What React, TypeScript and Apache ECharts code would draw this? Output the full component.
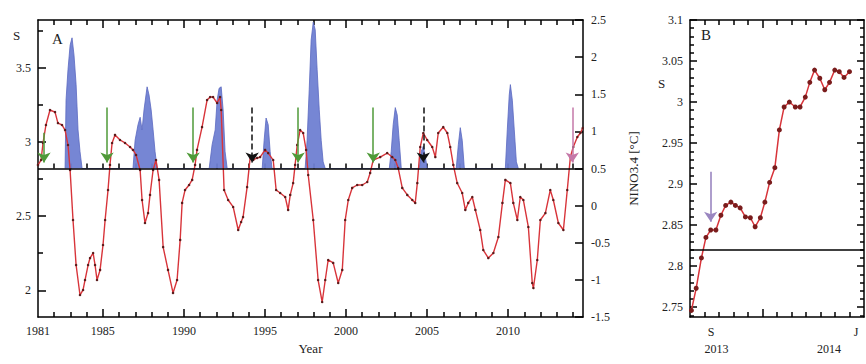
import React, { useEffect, useRef } from "react";
import * as echarts from "echarts";

// ---- Panel A: S index (left axis) ----
const sYears = [
  1981.0, 1981.19, 1981.31, 1981.49, 1981.74, 1982.05, 1982.23, 1982.48, 1982.67, 1982.85,
  1982.98, 1983.16, 1983.35, 1983.59, 1983.78, 1983.9, 1984.09, 1984.21, 1984.4, 1984.52,
  1984.64, 1984.83, 1985.01, 1985.14, 1985.32, 1985.44, 1985.57, 1985.75, 1986.06, 1986.37,
  1986.68, 1986.86, 1987.05, 1987.3, 1987.42, 1987.6, 1987.79, 1987.91, 1988.1, 1988.28,
  1988.47, 1988.72, 1989.02, 1989.33, 1989.58, 1989.77, 1989.89, 1990.07, 1990.32, 1990.51,
  1990.69, 1990.81, 1991.12, 1991.43, 1991.62, 1991.8, 1992.05, 1992.23, 1992.3, 1992.48,
  1992.73, 1993.04, 1993.35, 1993.53, 1993.65, 1993.9, 1994.09, 1994.27, 1994.52, 1994.7,
  1995.01, 1995.2, 1995.51, 1995.69, 1995.94, 1996.25, 1996.43, 1996.56, 1996.74, 1996.86,
  1996.99, 1997.17, 1997.36, 1997.54, 1997.67, 1997.98, 1998.28, 1998.53, 1998.72, 1998.9,
  1999.21, 1999.52, 1999.77, 1999.95, 2000.14, 2000.38, 2000.69, 2001.0, 2001.31, 2001.49,
  2001.68, 2002.11, 2002.54, 2002.85, 2003.04, 2003.22, 2003.47, 2003.78, 2004.09, 2004.27,
  2004.4, 2004.58, 2004.77, 2005.01, 2005.32, 2005.51, 2005.69, 2006.0, 2006.25, 2006.43,
  2006.62, 2006.86, 2007.17, 2007.36, 2007.54, 2007.79, 2007.98, 2008.28, 2008.47, 2008.78,
  2009.09, 2009.4, 2009.65, 2009.83, 2010.14, 2010.32, 2010.57, 2010.75, 2010.94, 2011.25,
  2011.49, 2011.56, 2011.8, 2011.99, 2012.3, 2012.6, 2012.79, 2013.1, 2013.41, 2013.65,
  2013.84, 2014.02, 2014.27, 2014.46, 2014.6,
];
const sValues = [
  2.844, 2.877, 2.992, 3.113, 3.214, 3.2, 3.126, 3.113, 3.079, 2.978,
  2.81, 2.473, 2.17, 1.968, 2.002, 2.069, 2.17, 2.217, 2.251, 2.17,
  2.069, 2.137, 2.305, 2.473, 2.675, 2.844, 2.992, 3.046, 3.012, 2.992,
  2.965, 2.945, 2.911, 2.81, 2.608, 2.453, 2.52, 2.642, 2.81, 2.877,
  2.743, 2.291, 2.137, 1.982, 2.069, 2.339, 2.588, 2.675, 2.709, 2.743,
  2.844, 2.945, 3.099, 3.281, 3.301, 3.301, 3.261, 3.301, 3.214, 2.675,
  2.608, 2.561, 2.406, 2.46, 2.493, 2.695, 2.897, 2.877, 2.891, 2.897,
  2.945, 2.924, 2.877, 2.675, 2.655, 2.628, 2.541, 2.642, 2.722, 2.844,
  2.978, 3.079, 3.059, 2.945, 2.776, 2.473, 2.069, 1.921, 2.069, 2.204,
  2.184, 2.049, 2.137, 2.473, 2.608, 2.689, 2.709, 2.709, 2.729, 2.79,
  2.877, 2.897, 2.924, 2.897, 2.877, 2.823, 2.689, 2.642, 2.608, 2.588,
  2.722, 2.965, 3.059, 3.012, 2.965, 2.897, 3.059, 3.099, 3.059, 2.965,
  2.844, 2.722, 2.655, 2.541, 2.588, 2.628, 2.541, 2.406, 2.271, 2.217,
  2.251, 2.359, 2.588, 2.743, 2.722, 2.588, 2.473, 2.628, 2.608, 2.426,
  2.049, 2.015, 2.204, 2.473, 2.52, 2.675, 2.608, 2.453, 2.406, 2.675,
  2.897, 2.965, 3.032, 3.059, 3.093,
];

// ---- Panel A: NINO3.4 El Nino episodes above 0.5 degC (right axis) ----
const ninoYears = [
  1982.67, 1982.73, 1982.85, 1982.98, 1983.1, 1983.22, 1983.35, 1983.47, 1983.59, 1983.72,
  1986.86, 1986.99, 1987.17, 1987.3, 1987.42, 1987.54, 1987.73, 1987.85, 1987.98, 1988.1, 1988.22, 1988.35,
  1991.56, 1991.74, 1991.93, 1992.05, 1992.17, 1992.3, 1992.42, 1992.54, 1992.67,
  1994.83, 1994.95, 1995.07, 1995.2, 1995.32, 1995.44,
  1997.48, 1997.6, 1997.73, 1997.85, 1997.98, 1998.1, 1998.22, 1998.35, 1998.47, 1998.59, 1998.72,
  2002.67, 2002.79, 2002.91, 2003.04, 2003.16, 2003.28, 2003.41,
  2004.52, 2004.64, 2004.77, 2004.89, 2005.01,
  2006.8, 2006.93, 2007.05, 2007.17, 2007.3,
  2009.83, 2009.95, 2010.07, 2010.14, 2010.26, 2010.38, 2010.51, 2010.63,
];
const ninoValues = [
  0.5, 1.42, 1.83, 2.16, 2.26, 2.03, 1.63, 1.02, 0.73, 0.5,
  0.5, 0.88, 1.09, 1.19, 1.02, 1.29, 1.6, 1.49, 1.29, 1.02, 0.73, 0.5,
  0.5, 0.82, 1.02, 1.42, 1.58, 1.6, 1.29, 0.73, 0.5,
  0.5, 0.88, 1.18, 1.09, 0.73, 0.5,
  0.5, 0.88, 1.56, 2.23, 2.47, 2.37, 1.83, 1.29, 0.88, 0.59, 0.5,
  0.5, 0.73, 1.09, 1.32, 1.22, 0.88, 0.5,
  0.5, 0.73, 0.8, 0.66, 0.5,
  0.5, 0.82, 1.05, 0.88, 0.5,
  0.5, 1.02, 1.49, 1.63, 1.42, 1.02, 0.59, 0.5,
];

// ---- Panel A: alarms (arrows) ----
const alarmYears = [1981.37, 1985.26, 1990.57, 1994.21, 1997.05, 2001.68, 2004.77, 2013.96];
const alarmTops = [3.06, 3.23, 3.23, 3.23, 3.23, 3.23, 3.23, 3.23];
const alarmKinds = ["hit", "hit", "hit", "false", "hit", "hit", "false", "now"];
const alarmTip = 2.86;
const threshold = 2.82;

const aLabelYears = [1981, 1985, 1990, 1995, 2000, 2005, 2010];

// ---- Panel B: S from Aug 2013 to Jul 2014 ----
const bDates = [
  "2013-08-04", "2013-08-14", "2013-08-25", "2013-09-04", "2013-09-14", "2013-09-25", "2013-10-05",
  "2013-10-15", "2013-10-26", "2013-11-05", "2013-11-15", "2013-11-26", "2013-12-06", "2013-12-16",
  "2013-12-27", "2014-01-06", "2014-01-16", "2014-01-27", "2014-02-06", "2014-02-16", "2014-02-27",
  "2014-03-09", "2014-03-19", "2014-03-30", "2014-04-09", "2014-04-19", "2014-04-30", "2014-05-10",
  "2014-05-20", "2014-05-31", "2014-06-10", "2014-06-20", "2014-07-01",
];
const bValues = [
  2.746, 2.773, 2.81, 2.835, 2.844, 2.844, 2.862, 2.874, 2.878, 2.874, 2.871,
  2.86, 2.859, 2.848, 2.859, 2.878, 2.902, 2.92, 2.966, 2.994, 3.0, 2.994,
  2.994, 3.006, 3.024, 3.039, 3.029, 3.015, 3.024, 3.039, 3.037, 3.03, 3.037,
];
const bAlarmDate = "2013-09-14";
const bAlarmTop = 2.915;
const bAlarmTip = 2.854;
const bMonthLabels = [
  { date: "2013-09-15", text: "S" },
  { date: "2014-07-15", text: "J" },
];
const bYearLabels = [
  { date: "2013-09-26", text: "2013" },
  { date: "2014-05-19", text: "2014" },
];

// months since 2013-08-01
function monthsOf(d: string): number {
  const [y, m, day] = d.split("-").map(Number);
  return (y - 2013) * 12 + (m - 8) + (day - 1) / 30.5;
}

const FONT = "Liberation Serif";
const TXT = "#222";

export default function App() {
  const ref = useRef<HTMLDivElement>(null);
  useEffect(() => {
    if (!ref.current) return;
    const chart = echarts.init(ref.current, undefined, { renderer: "svg" });

    const yearsAll: number[] = [];
    for (let y = 1982; y <= 2014; y++) yearsAll.push(y);
    const majorYears = yearsAll.filter((y) => y % 5 === 0);
    const minorYears = yearsAll.filter((y) => y % 5 !== 0);

    const bMinorY: number[] = [];
    for (let v = 274; v <= 310; v++) if (v % 5 !== 0) bMinorY.push(v / 100);
    const bMajorY = [2.75, 2.8, 2.85, 2.9, 2.95, 3.0, 3.05, 3.1];
    const bMonths = [1, 2, 3, 4, 6, 7, 8, 9, 10, 11];

    const lbl = { fontFamily: FONT, color: TXT, fontSize: 12 };
    const blackLine = { color: "#000", width: 1.5 };

    const xA = (pos: string, ticks: number[], len: number, line: boolean, labels?: number[], extra: any = {}) => ({
      type: "value",
      gridIndex: 0,
      position: pos,
      min: 1981,
      max: 2014.62,
      axisLine: { show: line, onZero: false, lineStyle: blackLine },
      axisTick: { show: true, inside: true, length: len, customValues: ticks, lineStyle: blackLine },
      axisLabel: labels
        ? { show: true, customValues: labels, margin: 8, ...lbl, formatter: (v: number) => String(Math.round(v)) }
        : { show: false },
      splitLine: { show: false },
      ...extra,
    });

    const xB = (pos: string, ticks: number[], len: number, line: boolean, labelSpec?: any, margin = 9) => ({
      type: "value",
      gridIndex: 1,
      position: pos,
      min: 0,
      max: 12,
      axisLine: { show: line, onZero: false, lineStyle: blackLine },
      axisTick: { show: ticks.length > 0, inside: true, length: len, customValues: ticks, lineStyle: blackLine },
      axisLabel: labelSpec
        ? {
            show: true,
            customValues: labelSpec.map((l: any) => monthsOf(l.date)),
            ...lbl,
            margin,
            formatter: (v: number) => {
              const f = labelSpec.find((l: any) => Math.abs(monthsOf(l.date) - v) < 1e-6);
              return f ? f.text : "";
            },
          }
        : { show: false },
      splitLine: { show: false },
    });

    const yAx = (grid: number, pos: string, min: number, max: number, ticks: number[] | null, len: number, line: boolean, labels: number[] | null, extra: any = {}) => ({
      type: "value",
      gridIndex: grid,
      position: pos,
      min,
      max,
      axisLine: { show: line, onZero: false, lineStyle: blackLine },
      axisTick: ticks
        ? { show: true, inside: true, length: len, customValues: ticks, lineStyle: blackLine }
        : { show: true, inside: true, length: len, lineStyle: blackLine },
      axisLabel: labels
        ? { show: true, customValues: labels, margin: 7, ...lbl, formatter: (v: number) => String(+v.toFixed(2)) }
        : { show: false },
      splitLine: { show: false },
      ...extra,
    });

    const option: any = {
      animation: false,
      backgroundColor: "#fff",
      grid: [
        { left: 38, top: 20, width: 545, height: 297, containLabel: false, outerBoundsMode: "none" },
        { left: 690, top: 20, width: 174, height: 297, containLabel: false, outerBoundsMode: "none" },
      ],
      xAxis: [
        xA("bottom", majorYears, 8, true, aLabelYears, {
          name: "Year",
          nameLocation: "middle",
          nameGap: 25,
          nameTextStyle: { fontFamily: FONT, color: TXT, fontSize: 13 },
        }),
        xA("bottom", minorYears, 5, false),
        xA("top", majorYears, 8, true),
        xA("top", minorYears, 5, false),
        xA("bottom", yearsAll, 5, false, undefined, { offset: -148.5 }),
        xB("bottom", [5], 8, true, bMonthLabels, 9),
        xB("bottom", bMonths, 5, false),
        xB("top", [5], 8, true),
        xB("top", bMonths, 5, false),
        xB("bottom", [], 0, false, bYearLabels, 26),
      ],
      yAxis: [
        yAx(0, "left", 1.82, 3.82, [2, 2.5, 3, 3.5], 8, true, [2, 2.5, 3, 3.5]),
        yAx(0, "left", 1.82, 3.82, [2.25, 2.75, 3.25, 3.75], 5, false, null),
        {
          ...yAx(0, "right", -1.5, 2.5, null, 8, true, null),
          interval: 0.5,
          name: "NINO3.4 [°C]",
          nameLocation: "middle",
          nameRotate: 90,
          nameGap: 44,
          nameTextStyle: { fontFamily: FONT, color: TXT, fontSize: 13 },
          axisLabel: { show: true, margin: 8, ...lbl },
        },
        yAx(1, "left", 2.738, 3.1, bMajorY, 7, true, bMajorY),
        yAx(1, "left", 2.738, 3.1, bMinorY, 4, false, null),
        yAx(1, "right", 2.738, 3.1, bMajorY, 7, true, null),
        yAx(1, "right", 2.738, 3.1, bMinorY, 4, false, null),
      ],
      series: [
        {
          type: "line",
          name: "NINO3.4",
          xAxisIndex: 0,
          yAxisIndex: 2,
          data: ninoYears.map((x, i) => [x, ninoValues[i]]),
          showSymbol: false,
          symbol: "none",
          lineStyle: { color: "#5a68c0", width: 0.8 },
          areaStyle: { color: "#6f7fd2", opacity: 0.95, origin: 0.5 },
          silent: true,
          z: 2,
        },
        {
          type: "line",
          name: "S",
          xAxisIndex: 0,
          yAxisIndex: 0,
          data: sYears.map((x, i) => [x, sValues[i]]),
          symbol: "circle",
          symbolSize: 2.5,
          showSymbol: true,
          itemStyle: { color: "#5a1a1a" },
          lineStyle: { color: "#d8343a", width: 1.4 },
          silent: true,
          z: 3,
          markLine: {
            silent: true,
            animation: false,
            symbol: ["none", "arrow"],
            symbolSize: 10,
            label: { show: false },
            data: [
              [
                { coord: [1981, threshold], symbol: "none" },
                { coord: [2014.62, threshold], symbol: "none", lineStyle: { color: "#000", width: 1.6, type: "solid" } },
              ],
              ...alarmYears.map((yr, i) => {
                const k = alarmKinds[i];
                const color = k === "hit" ? "#4f9a38" : k === "false" ? "#111" : "#c578a8";
                const type = k === "false" ? "dashed" : "solid";
                return [
                  { coord: [yr, alarmTops[i]] },
                  { coord: [yr, alarmTip], lineStyle: { color, width: 1.5, type } },
                ];
              }),
            ],
          },
        },
        {
          type: "line",
          name: "S 2013-2014",
          xAxisIndex: 5,
          yAxisIndex: 3,
          data: bDates.map((d, i) => [monthsOf(d), bValues[i]]),
          symbol: "circle",
          symbolSize: 5,
          itemStyle: { color: "#7a1c1c" },
          lineStyle: { color: "#d8343a", width: 1.5 },
          silent: true,
          z: 3,
          markLine: {
            silent: true,
            animation: false,
            symbol: ["none", "arrow"],
            symbolSize: 10,
            label: { show: false },
            data: [
              [
                { coord: [0, threshold], symbol: "none" },
                { coord: [12, threshold], symbol: "none", lineStyle: { color: "#000", width: 1.5, type: "solid" } },
              ],
              [
                { coord: [monthsOf(bAlarmDate), bAlarmTop] },
                { coord: [monthsOf(bAlarmDate), bAlarmTip], lineStyle: { color: "#9a86c0", width: 1.6, type: "solid" } },
              ],
            ],
          },
        },
      ],
      graphic: [
        { type: "text", left: 52, top: 31, style: { text: "A", font: `15px "${FONT}"`, fill: TXT } },
        { type: "text", left: 701, top: 27, style: { text: "B", font: `15px "${FONT}"`, fill: TXT } },
        { type: "text", left: 13, top: 29, style: { text: "S", font: `13px "${FONT}"`, fill: TXT } },
        { type: "text", left: 658, top: 77, style: { text: "S", font: `13px "${FONT}"`, fill: TXT } },
      ],
    };

    chart.setOption(option);
    return () => chart.dispose();
  }, []);

  return (
    <div
      ref={ref}
      style={{ position: "fixed", left: 0, top: 0, width: 866, height: 364, background: "#fff" }}
    />
  );
}
